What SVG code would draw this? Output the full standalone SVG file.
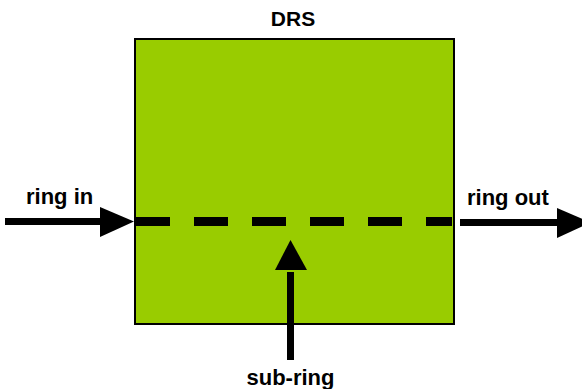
<svg xmlns="http://www.w3.org/2000/svg" width="582" height="389" viewBox="0 0 582 389">
<style>
.lbl{font-family:"Liberation Sans",Arial,sans-serif;font-weight:bold;font-size:22px;fill:#000}
.arr{stroke:#000;stroke-width:7;fill:none}
.head{fill:#000}
</style>
<rect width="582" height="389" fill="#fff"/>
<g id="drs">
<rect x="135" y="39" width="319" height="285" fill="#99cc00" stroke="#000" stroke-width="2"/>
<text class="lbl" x="293" y="26" text-anchor="middle" style="font-size:21px">DRS</text>
</g>
<g id="ring-in-label"><text class="lbl" x="26" y="204">ring in</text></g>
<g id="ring-out-label"><text class="lbl" x="467" y="205">ring out</text></g>
<g id="sub-ring-label"><text class="lbl" x="290.5" y="385" text-anchor="middle">sub-ring</text></g>
<g id="connectors">
<line x1="136" y1="221.5" x2="452" y2="221.5" stroke="#000" stroke-width="9" stroke-dasharray="34 24"/>
<line class="arr" x1="5" y1="221.5" x2="102" y2="221.5"/>
<polygon class="head" points="100,207 134,221.5 100,237"/>
<line class="arr" x1="460" y1="222.5" x2="559" y2="222.5"/>
<polygon class="head" points="557,208 591,222.5 557,238"/>
<line class="arr" x1="290.5" y1="360" x2="290.5" y2="272"/>
<polygon class="head" points="275,270 290.5,240 307,270"/>
</g>
</svg>
